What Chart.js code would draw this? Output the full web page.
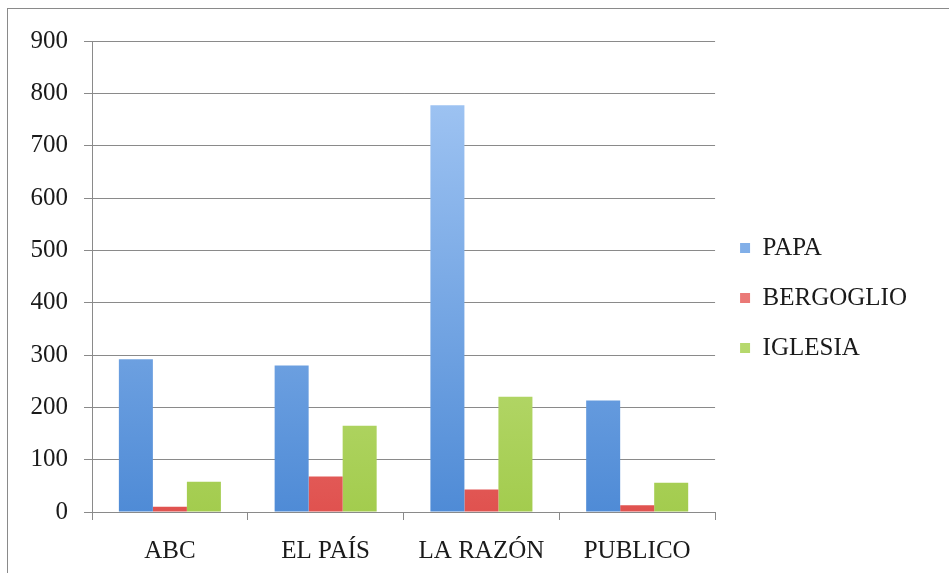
<!DOCTYPE html>
<html>
<head>
<meta charset="utf-8">
<script src="https://cdn.jsdelivr.net/npm/chart.js@4"></script>
<style>
  html, body { margin: 0; padding: 0; background: #fff; }
  #wrap { position: relative; width: 949px; height: 573px; overflow: hidden; }
  #frame { position: absolute; left: 7px; top: 8px; width: 1000px; height: 700px; border: 1px solid #8a8a8a; }
  canvas { position: absolute; left: 0; top: 0; }
</style>
</head>
<body>
<div id="wrap">
  <div id="frame"></div>
  <canvas id="chart" width="949" height="573"></canvas>
</div>
<script>
const categories = ["ABC", "EL PAÍS", "LA RAZÓN", "PUBLICO"];
const papa = [292, 280, 777, 213];
const bergoglio = [10, 68, 43, 13];
const iglesia = [58, 165, 220, 56];
const yTicks = [0, 100, 200, 300, 400, 500, 600, 700, 800, 900];

// top / bottom colours of each bar gradient
const blues = ['#a9cbf6', '#4f8bd6'];
const reds = ['#f6a8a6', '#e0524f'];
const greens = ['#d9efa6', '#a3cc4e'];

function grad(cols) {
    return function (ctx) {
        const area = ctx.chart.chartArea;
        if (!area) return cols[1];
        const g = ctx.chart.ctx.createLinearGradient(0, area.top, 0, area.bottom);
        g.addColorStop(0, cols[0]);
        g.addColorStop(1, cols[1]);
        return g;
    };
}

const font = { family: "'Liberation Serif', 'DejaVu Serif', serif", size: 25 };

const data = {
    labels: categories,
    datasets: [
        { label: "PAPA", data: papa, backgroundColor: grad(blues) },
        { label: "BERGOGLIO", data: bergoglio, backgroundColor: grad(reds) },
        { label: "IGLESIA", data: iglesia, backgroundColor: grad(greens) }
    ]
};

// nudge the legend up a little, it sits a bit higher than centre
const legendShift = {
    id: 'legendShift',
    afterLayout(chart) {
        chart.legend.top -= 9;
        chart.legend.bottom -= 9;
    }
};

const chart = new Chart(
    document.getElementById("chart"),
    {
        type: 'bar',
        data: data,
        plugins: [legendShift],
        options: {
            responsive: false,
            animation: false,
            layout: { padding: { top: 41, left: 0, right: 32, bottom: 0 } },
            datasets: { bar: { categoryPercentage: 0.655, barPercentage: 1.0 } },
            plugins: {
                tooltip: { enabled: false },
                legend: {
                    position: 'right',
                    labels: {
                        color: '#1a1a1a',
                        font: font,
                        boxWidth: 10,
                        boxHeight: 10,
                        padding: 25,
                        useBorderRadius: false
                    }
                }
            },
            scales: {
                x: {
                    afterFit: s => { s.height = 61; },
                    grid: { drawOnChartArea: false, drawTicks: true, tickLength: 8, color: '#8a8a8a', offset: true },
                    border: { color: '#8a8a8a' },
                    ticks: { color: '#1a1a1a', font: font, padding: 16 }
                },
                y: {
                    min: 0,
                    max: 900,
                    afterFit: s => { s.width = 92; },
                    afterBuildTicks: s => { s.ticks = yTicks.map(v => ({ value: v })); },
                    grid: { color: '#8a8a8a', tickLength: 8 },
                    border: { color: '#8a8a8a' },
                    ticks: { color: '#1a1a1a', font: font, padding: 16 }
                }
            }
        }
    }
);
</script>
</body>
</html>
